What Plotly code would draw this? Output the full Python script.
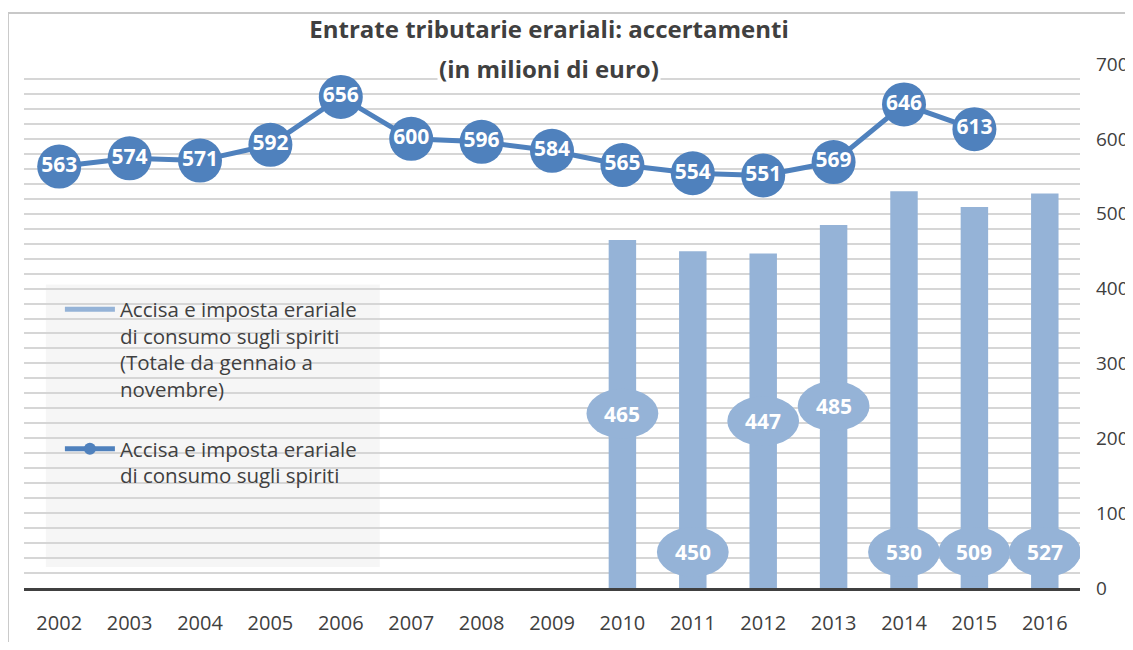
import plotly.graph_objects as go

# ---- data ----
years = list(range(2002, 2017))
line_values = [563, 574, 571, 592, 656, 600, 596, 584, 565, 554, 551, 569, 646, 613, None]
bar_years = [2010, 2011, 2012, 2013, 2014, 2015, 2016]
bar_values = [465, 450, 447, 485, 530, 509, 527]
y_ticks = [0, 100, 200, 300, 400, 500, 600, 700]

bar_name = "Accisa e imposta erariale<br>di consumo sugli spiriti<br>(Totale da gennaio a<br>novembre)"
line_name = "Accisa e imposta erariale<br>di consumo sugli spiriti"

# label placement (data units) for bar value bubbles
bar_label_y = [233, 48, 223, 243, 48, 48, 48]

LINE_C = "#4f81bd"
BAR_C = "#95b3d7"
TXT = "#404040"
FONT = "Open Sans"

W, H = 1125, 634

fig = go.Figure()

fig.add_trace(go.Bar(
    x=bar_years, y=bar_values, name=bar_name, marker_color=BAR_C,
    marker_line_width=0, width=0.39, showlegend=False,
))
# legend entry for bars
fig.add_trace(go.Scatter(
    x=[None], y=[None], mode="lines", name=bar_name, legendgroup="bars",
    line=dict(color=BAR_C, width=12), legendrank=1,
))
fig.add_trace(go.Scatter(
    x=years, y=line_values, name=line_name, mode="lines+markers", legendgroup="line",
    line=dict(color=LINE_C, width=5),
    marker=dict(color=LINE_C, size=44), legendrank=2,
))
fig.add_trace(go.Scatter(
    x=years, y=line_values, mode="text", showlegend=False,
    text=[str(v) if v is not None else "" for v in line_values],
    textposition="middle center",
    textfont=dict(family=FONT, size=21, color="white", weight="bold"),
    hoverinfo="skip",
))

shapes = []
annotations = []
for yr, v, ly in zip(bar_years, bar_values, bar_label_y):
    shapes.append(dict(type="circle", xref="x", yref="y",
                       x0=yr - 0.51, x1=yr + 0.51, y0=ly - 33.3, y1=ly + 33.3,
                       fillcolor=BAR_C, line_width=0, layer="above"))
    annotations.append(dict(x=yr, y=ly, xref="x", yref="y", text=str(v),
                            showarrow=False,
                            font=dict(family=FONT, size=21, color="white", weight="bold")))

# legend backdrop
shapes.append(dict(type="rect", xref="paper", yref="paper",
                   x0=0.0208, x1=0.337, y0=0.04, y1=0.579,
                   fillcolor="rgba(238,238,238,0.55)", line_width=0, layer="between"))
# outer chart frame (extends past the visible page at right and bottom)
shapes.append(dict(type="rect", xref="paper", yref="paper",
                   x0=-0.0152, x1=1.1, y0=-0.3, y1=1.0975,
                   fillcolor="rgba(0,0,0,0)", line=dict(color="#c8c8c8", width=2)))

annotations.append(dict(text="(in milioni di euro)", xref="paper", yref="paper",
                        x=0.497, y=0.992, yanchor="middle", showarrow=False, bgcolor="white",
                        font=dict(family=FONT, size=24, color=TXT, weight="bold")))

fig.update_layout(
    width=W, height=H,
    margin=dict(l=16, r=53, t=56, b=54, autoexpand=False),
    paper_bgcolor="white", plot_bgcolor="white",
    title=dict(text="Entrate tributarie erariali: accertamenti",
               x=541 / W, xref="container", xanchor="center",
               y=1 - 22 / H, yref="container", yanchor="middle",
               font=dict(family=FONT, size=24, color=TXT, weight="bold")),
    xaxis=dict(range=[2001.5, 2016.5], tickvals=years, ticktext=[str(y) for y in years],
               showgrid=False, showline=True, linecolor=TXT, linewidth=3,
               zeroline=False, ticks="", ticklabelstandoff=15, automargin=False,
               tickfont=dict(family=FONT, size=20, color=TXT)),
    yaxis=dict(range=[0, 700], side="right", tickvals=y_ticks,
               showgrid=True, gridcolor="#d6d6d6", gridwidth=2,
               minor=dict(dtick=20, showgrid=True, gridcolor="#d6d6d6", gridwidth=2),
               zeroline=False, showline=False, ticks="", ticklabelstandoff=15,
               automargin=False,
               tickfont=dict(family=FONT, size=19, color=TXT)),
    legend=dict(x=0.034, y=0.57, xanchor="left", yanchor="top",
                bgcolor="rgba(0,0,0,0)", font=dict(family=FONT, size=20.5, color=TXT),
                valign="top", itemsizing="constant", itemwidth=50, tracegroupgap=30,
                traceorder="grouped"),
    shapes=shapes, annotations=annotations,
    bargap=0.6,
)

fig.write_html("out.html")
